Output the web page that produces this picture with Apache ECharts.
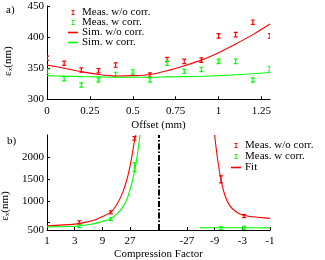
<!DOCTYPE html>
<html><head><meta charset="utf-8">
<script src="https://cdn.jsdelivr.net/npm/echarts@6/dist/echarts.min.js"></script>
<style>html,body{margin:0;padding:0;background:#fff}#c{width:325px;height:260px}</style>
</head><body><div id="c"></div>
<script>
// ---------- Panel a data ----------
const offsetTicks = [0, 0.25, 0.5, 0.75, 1, 1.25];
const offsetsRed = [0, 0.1, 0.2, 0.3, 0.4, 0.6, 0.7, 0.8, 0.9, 1.0, 1.1, 1.2, 1.3];
const measRedA = [366, 358, 347, 346, 355, 339, 364, 361, 363, 402, 404, 424, 402];
const offsetsGreen = [0, 0.1, 0.2, 0.3, 0.4, 0.5, 0.6, 0.7, 0.8, 0.9, 1.0, 1.1, 1.2, 1.3];
const measGreenA = [345, 333, 323, 331, 340, 344, 331, 358, 345, 348, 361, 361, 331, 349];
const errA = 3.5;
const simOffsets = [0, 0.1, 0.2, 0.3, 0.4, 0.5, 0.6, 0.7, 0.8, 0.9, 1.0, 1.1, 1.2, 1.3];
const simRedA = [355, 350, 344.5, 340, 337.5, 338, 340, 346, 354, 363, 375, 389, 404, 421];
const simGreenA = [338, 337.2, 336.5, 336, 335.5, 335.5, 335.5, 336, 336.5, 337, 338, 339.5, 341, 343];

// ---------- Panel b data ----------
const compTicks = [1, 3, 9, 27, -27, -9, -3, -1];
const yTicksB = [500, 1000, 1500, 2000];
const compMeas = [3.6, 12.6, 32, -7, -2.8];
const measRedB = [510, 736, 2418, 1486, 652];
const errRedB = [15, 15, 40, 80, 12];
const measGreenB = [425, 584, 1766, 373, 386];
const errGreenB = [10, 12, 100, 10, 10];
const fitRedPosC = [1, 3, 5, 7, 9, 12.6, 16, 20, 24, 28, 32, 34];
const fitRedPos = [430, 468, 520, 575, 640, 740, 920, 1180, 1500, 1900, 2350, 2495];
const fitGreenPosC = [1, 3, 6, 9, 12.6, 16, 20, 24, 28, 32, 36, 40];
const fitGreenPos = [405, 420, 470, 530, 590, 700, 850, 1050, 1330, 1650, 2050, 2495];
const fitRedNegC = [-9, -8, -7, -6, -5, -4, -3, -2, -1];
const fitRedNeg = [2495, 1950, 1486, 1130, 900, 766, 675, 636, 600];
const fitGreenNegC = [-16, -9, -3, -1];
const fitGreenNeg = [388, 387, 385, 384];

// axis transform for compression factor (log3 on each side, mirrored)
const TOTAL = 8.05;
const tr = c => c > 0 ? Math.log(c) / Math.log(3) : TOTAL - Math.log(-c) / Math.log(3);

const RED = '#ff0000', GREEN = '#00ff00';
const FONT = 'Liberation Serif';

function errRender(params, api) {
  const x = api.value(0), y = api.value(1), e = api.value(2);
  const p = api.coord([x, y]);
  const hi = api.coord([x, y + e]), lo = api.coord([x, y - e]);
  const top = Math.min(hi[1], p[1] - 1.5), bot = Math.max(lo[1], p[1] + 1.5);
  const c = api.visual('color');
  const w = 2;
  const st = {stroke: c, lineWidth: 1.2};
  return {type: 'group', children: [
    {type: 'line', shape: {x1: p[0], y1: top, x2: p[0], y2: bot}, style: st},
    {type: 'line', shape: {x1: p[0] - w, y1: top, x2: p[0] + w, y2: top}, style: st},
    {type: 'line', shape: {x1: p[0] - w, y1: bot, x2: p[0] + w, y2: bot}, style: st}
  ]};
}

const IBEAM = 'path://M0,0H6V1.8H3.9V8.2H6V10H0V8.2H2.1V1.8H0Z';
const LINE = 'path://M0,0H10V1.6H0Z';

const axisCommon = {
  axisLine: {show: true, lineStyle: {color: '#000', width: 1}},
  axisTick: {show: true, inside: true, length: 3, lineStyle: {color: '#000'}},
  splitLine: {show: false},
  axisLabel: {color: '#000', fontFamily: FONT, fontSize: 11}
};
const yName = {
  name: '{a|ε}{s|x}{a|(nm)}',
  nameLocation: 'middle',
  nameRotate: 90
};
const legendText = {fontFamily: FONT, fontSize: 11, color: '#000', lineHeight: 10, padding: [0, 0, 0, -1]};

const chart = echarts.init(document.getElementById('c'), null, {renderer: 'canvas'});
chart.setOption({
  animation: false,
  backgroundColor: '#fff',
  textStyle: {fontFamily: FONT},
  title: [
    {text: 'a)', left: 1, top: 0, textStyle: {fontFamily: FONT, fontSize: 11, fontWeight: 'normal', color: '#000'}},
    {text: 'b)', left: 2, top: 131, textStyle: {fontFamily: FONT, fontSize: 11, fontWeight: 'normal', color: '#000'}}
  ],
  grid: [
    {left: 47, top: 6, width: 223, height: 93.3, containLabel: false, outerBoundsMode: 'none'},
    {left: 47, top: 135, width: 223, height: 95, containLabel: false, outerBoundsMode: 'none'}
  ],
  legend: [
    {
      orient: 'vertical', left: 66, top: 5, itemWidth: 10, itemHeight: 5, itemGap: -1, padding: 2,
      selectedMode: false, textStyle: legendText,
      data: [
        {name: 'Meas. w/o corr.', icon: IBEAM},
        {name: 'Meas. w corr.', icon: IBEAM},
        {name: 'Sim. w/o corr.', icon: LINE},
        {name: 'Sim. w corr.', icon: LINE}
      ]
    },
    {
      orient: 'vertical', left: 229, top: 138, itemWidth: 10, itemHeight: 5, itemGap: 0, padding: 2,
      selectedMode: false, textStyle: legendText,
      data: [
        {name: 'Meas. w/o corr. ', icon: IBEAM},
        {name: 'Meas. w corr. ', icon: IBEAM},
        {name: 'Fit', icon: LINE}
      ]
    }
  ],
  xAxis: [
    Object.assign({}, axisCommon, {
      gridIndex: 0, type: 'value', min: 0, max: 1.3,
      name: 'Offset (mm)', nameLocation: 'middle', nameGap: 20,
      nameTextStyle: {fontFamily: FONT, fontSize: 11, color: '#000'},
      axisTick: Object.assign({}, axisCommon.axisTick, {customValues: offsetTicks}),
      axisLabel: Object.assign({}, axisCommon.axisLabel, {margin: 6, customValues: offsetTicks,
        formatter: v => String(v)})
    }),
    Object.assign({}, axisCommon, {
      gridIndex: 1, type: 'value', min: 0, max: TOTAL,
      name: 'Compression Factor', nameLocation: 'middle', nameGap: 19,
      nameTextStyle: {fontFamily: FONT, fontSize: 11, color: '#000'},
      axisTick: Object.assign({}, axisCommon.axisTick, {customValues: compTicks.map(tr)}),
      axisLabel: Object.assign({}, axisCommon.axisLabel, {margin: 6, customValues: compTicks.map(tr),
        formatter: v => {
          let best = 0, bd = 1e9;
          compTicks.forEach((c, i) => { const d = Math.abs(tr(c) - v); if (d < bd) { bd = d; best = i; } });
          return String(compTicks[best]);
        }})
    })
  ],
  yAxis: [
    Object.assign({}, axisCommon, yName, {
      gridIndex: 0, type: 'value', min: 300, max: 450, interval: 50, nameGap: 33,
      nameTextStyle: {fontFamily: FONT, fontSize: 11, color: '#000', padding: [0, 17, 0, 0],
        rich: {a: {fontFamily: FONT, fontSize: 11, color: '#000'},
               s: {fontFamily: FONT, fontSize: 7, color: '#000', verticalAlign: 'bottom', padding: [5, 0, 0, 0]}}},
      axisLabel: Object.assign({}, axisCommon.axisLabel, {margin: 3})
    }),
    Object.assign({}, axisCommon, yName, {
      gridIndex: 1, type: 'value', min: 335, max: 2495, nameGap: 34,
      nameTextStyle: {fontFamily: FONT, fontSize: 11, color: '#000', padding: [0, 47, 0, 0],
        rich: {a: {fontFamily: FONT, fontSize: 11, color: '#000'},
               s: {fontFamily: FONT, fontSize: 7, color: '#000', verticalAlign: 'bottom', padding: [5, 0, 0, 0]}}},
      axisTick: Object.assign({}, axisCommon.axisTick, {customValues: yTicksB}),
      axisLabel: Object.assign({}, axisCommon.axisLabel, {margin: 3, customValues: yTicksB,
        formatter: v => v === 500 ? '{low|500}' : String(v),
        rich: {low: {fontFamily: FONT, fontSize: 11, color: '#000', padding: [14, 0, 0, 0]}}})
    })
  ],
  series: [
    // panel a
    {name: 'Sim. w/o corr.', type: 'line', xAxisIndex: 0, yAxisIndex: 0, smooth: 0.3, showSymbol: false,
     color: RED, lineStyle: {color: RED, width: 1.1},
     data: simOffsets.map((x, i) => [x, simRedA[i]])},
    {name: 'Sim. w corr.', type: 'line', xAxisIndex: 0, yAxisIndex: 0, smooth: 0.3, showSymbol: false,
     color: GREEN, lineStyle: {color: GREEN, width: 1.1},
     data: simOffsets.map((x, i) => [x, simGreenA[i]])},
    {name: 'Meas. w/o corr.', type: 'custom', xAxisIndex: 0, yAxisIndex: 0, renderItem: errRender, clip: true,
     color: RED, itemStyle: {color: RED}, encode: {x: 0, y: 1},
     data: offsetsRed.map((x, i) => [x, measRedA[i], errA])},
    {name: 'Meas. w corr.', type: 'custom', xAxisIndex: 0, yAxisIndex: 0, renderItem: errRender, clip: true,
     color: GREEN, itemStyle: {color: GREEN}, encode: {x: 0, y: 1},
     data: offsetsGreen.map((x, i) => [x, measGreenA[i], errA])},
    // panel b
    {name: 'Fit', type: 'line', xAxisIndex: 1, yAxisIndex: 1, smooth: 0.3, showSymbol: false,
     color: RED, lineStyle: {color: RED, width: 1.1},
     data: fitRedPosC.map((c, i) => [tr(c), fitRedPos[i]]),
     markLine: {silent: true, symbol: 'none', label: {show: false},
       lineStyle: {color: '#000', type: [6, 2, 1.5, 2], width: 2},
       data: [{xAxis: TOTAL / 2}]}},
    {name: 'Fit', type: 'line', xAxisIndex: 1, yAxisIndex: 1, smooth: 0.3, showSymbol: false,
     color: RED, lineStyle: {color: RED, width: 1.1},
     data: fitRedNegC.map((c, i) => [tr(c), fitRedNeg[i]])},
    {name: 'Fit ', type: 'line', xAxisIndex: 1, yAxisIndex: 1, smooth: 0.3, showSymbol: false,
     color: GREEN, lineStyle: {color: GREEN, width: 1.1},
     data: fitGreenPosC.map((c, i) => [tr(c), fitGreenPos[i]])},
    {name: 'Fit ', type: 'line', xAxisIndex: 1, yAxisIndex: 1, smooth: 0.3, showSymbol: false,
     color: GREEN, lineStyle: {color: GREEN, width: 1.1},
     data: fitGreenNegC.map((c, i) => [tr(c), fitGreenNeg[i]])},
    {name: 'Meas. w/o corr. ', type: 'custom', xAxisIndex: 1, yAxisIndex: 1, renderItem: errRender, clip: true,
     color: RED, itemStyle: {color: RED}, encode: {x: 0, y: 1},
     data: compMeas.map((c, i) => [tr(c), measRedB[i], errRedB[i]])},
    {name: 'Meas. w corr. ', type: 'custom', xAxisIndex: 1, yAxisIndex: 1, renderItem: errRender, clip: true,
     color: GREEN, itemStyle: {color: GREEN}, encode: {x: 0, y: 1},
     data: compMeas.map((c, i) => [tr(c), measGreenB[i], errGreenB[i]])}
  ]
});
</script>
</body></html>
